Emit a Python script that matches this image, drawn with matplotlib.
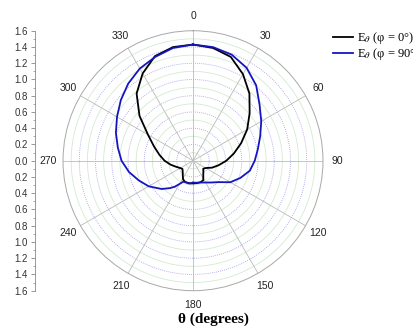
import numpy as np
import matplotlib.pyplot as plt
from matplotlib.ticker import FixedLocator, FuncFormatter

# Dữ liệu (góc theo độ, biên độ)
theta_black = [0, 10, 20, 30, 40, 50, 60, 70, 80, 90, 100, 110, 120, 128, 135, 145, 152,
               160, 170, 180, 190, 200, 208, 215, 225, 232, 240, 250, 260, 270, 280,
               290, 300, 310, 320, 330, 340, 350, 360]
r_black = [1.43, 1.41, 1.36, 1.23, 1.08, 0.91, 0.77, 0.63, 0.51, 0.41, 0.32, 0.25, 0.18, 0.16,
           0.18, 0.22, 0.27, 0.28, 0.28, 0.28, 0.28, 0.28, 0.26, 0.22, 0.18, 0.165, 0.18,
           0.22, 0.28, 0.35, 0.42, 0.51, 0.64, 0.86, 1.08, 1.24, 1.37, 1.42, 1.43]

theta_blue = [0, 10, 20, 30, 40, 50, 60, 70, 80, 90, 100, 110, 120, 130, 140, 150, 160, 170,
              178, 180, 185, 190, 200, 205, 210, 215, 220, 228, 240, 250, 260, 270, 280,
              290, 300, 310, 320, 330, 340, 350, 360]
r_blue = [1.43, 1.42, 1.39, 1.32, 1.21, 1.07, 0.97, 0.88, 0.81, 0.76, 0.71, 0.62, 0.53, 0.41,
          0.35, 0.31, 0.285, 0.275, 0.27, 0.265, 0.28, 0.285, 0.28, 0.285, 0.33, 0.39, 0.44,
          0.52, 0.63, 0.71, 0.80, 0.88, 0.94, 1.01, 1.08, 1.16, 1.24, 1.31, 1.36, 1.41, 1.43]

labels = ['E$_\\theta$ (φ = 0°)', 'E$_\\theta$ (φ = 90°)']
r_max = 1.6

plt.rcParams['font.family'] = ['Liberation Sans', 'DejaVu Sans']
plt.rcParams['mathtext.fontset'] = 'stix'

fig = plt.figure(figsize=(4.14, 3.27), dpi=100)
ax = fig.add_axes([0.1522, 0.111, 0.628, 0.795], projection='polar')
ax.set_theta_zero_location('N')
ax.set_theta_direction(-1)
ax.set_ylim(0, r_max)

# lưới: vòng tròn mỗi 0.1, xen kẽ xanh lá / xanh chấm
ax.yaxis.grid(False)
ax.set_yticklabels([])
full = np.linspace(0, 2 * np.pi, 361)
for i, rr in enumerate(np.arange(0.1, 1.6, 0.1)):
    if i % 2 == 0:
        ax.plot(full, np.full_like(full, rr), color='#d3ead3', lw=0.6, zorder=1)
    else:
        ax.plot(full, np.full_like(full, rr), color='#9a9ae0', lw=0.6, ls=(0, (1, 1.5)), zorder=1)

ax.set_xticks(np.deg2rad(np.arange(0, 360, 30)))
ax.set_xticklabels([str(a) for a in range(0, 360, 30)], fontsize=7.5, color='#222222')
ax.tick_params(axis='x', pad=0)
ax.xaxis.grid(True, color='#bbbbbb', lw=0.6)
ax.spines['polar'].set_color('#a8a8a8')
ax.spines['polar'].set_linewidth(0.7)

l1, = ax.plot(np.deg2rad(theta_black), r_black, color='black', lw=1.3, zorder=3)
l2, = ax.plot(np.deg2rad(theta_blue), r_blue, color='#1515c0', lw=1.3, zorder=3)

# trục dọc bên trái
axl = fig.add_axes([0.0845, 0.111, 0.001, 0.795])
axl.set_ylim(-r_max, r_max)
for s in ['top', 'right', 'bottom']:
    axl.spines[s].set_visible(False)
axl.spines['left'].set_color('#888888')
axl.spines['left'].set_linewidth(0.6)
axl.set_xticks([])
axl.yaxis.set_major_locator(FixedLocator(np.round(np.arange(-1.6, 1.61, 0.2), 1)))
axl.yaxis.set_minor_locator(FixedLocator(np.round(np.arange(-1.5, 1.6, 0.2), 1)))
axl.yaxis.set_major_formatter(FuncFormatter(lambda v, p: f'{abs(v):.1f}'))
axl.invert_yaxis()
axl.tick_params(axis='y', which='major', length=3, width=0.6, color='#888888',
                labelsize=7, labelcolor='#333333', pad=2)
axl.tick_params(axis='y', which='minor', length=1.5, width=0.5, color='#888888')
axl.patch.set_visible(False)

fig.legend([l1, l2], labels, loc='upper left', bbox_to_anchor=(333 / 414, 1 - 30 / 327),
           frameon=False, handlelength=1.6, handletextpad=0.35, labelspacing=0.0,
           prop={'family': 'Liberation Serif', 'size': 9}, borderaxespad=0, borderpad=0)

fig.text(213 / 414, 1 - 319 / 327, 'θ (degrees)', ha='center', va='center',
         fontsize=11, fontweight='bold', family='Liberation Serif')

fig.savefig('out.png', dpi=100)
